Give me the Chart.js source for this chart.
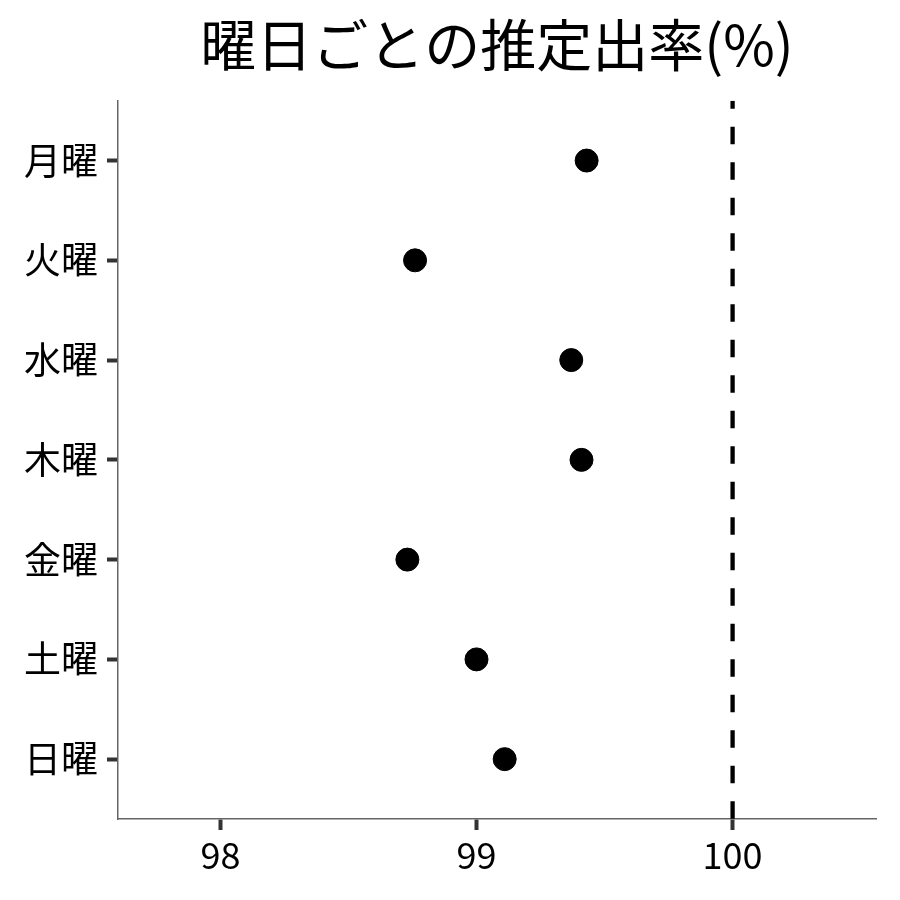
<!DOCTYPE html>
<html>
<head>
<meta charset="utf-8">
<script src="https://cdn.jsdelivr.net/npm/chart.js@4"></script>
<style>
  html, body { margin: 0; padding: 0; background: #fff; }
  #wrap { width: 900px; height: 900px; }
</style>
</head>
<body>
<div id="wrap"><canvas id="grafico"></canvas></div>
<script>
// 曜日ごとの推定出率
const dias = ["月曜", "火曜", "水曜", "木曜", "金曜", "土曜", "日曜"];
const taxas = [99.43, 98.76, 99.37, 99.41, 98.73, 99.00, 99.11];
const ticksX = [98, 99, 100];
const linhaRef = 100;
const limitesX = [97.6, 100.56];
const limitesY = [-0.6, 6.6];

const fonte = '"Noto Sans CJK JP", "Noto Sans", sans-serif';

const pontos = taxas.map((v, i) => ({ x: v, y: i }));

const ctx = document.getElementById("grafico");

new Chart(ctx, {
    type: "scatter",
    data: {
        datasets: [
            {
                label: "出率",
                data: pontos,
                backgroundColor: "#000",
                borderColor: "#000",
                pointRadius: 11.5,
                pointHoverRadius: 11.5
            },
            {
                type: "line",
                label: "100%",
                data: [{ x: linhaRef, y: limitesY[0] }, { x: linhaRef, y: limitesY[1] }],
                borderColor: "#000",
                borderWidth: 4.3,
                borderDash: [17.5, 18],
                borderDashOffset: 9.5,
                pointRadius: 0,
                fill: false
            }
        ]
    },
    options: {
        responsive: true,
        maintainAspectRatio: false,
        animation: false,
        layout: { padding: { left: 0, right: 24, top: 0, bottom: 0 } },
        plugins: {
            legend: { display: false },
            tooltip: { enabled: false },
            title: {
                display: true,
                fullSize: false,
                text: "曜日ごとの推定出率(%)",
                color: "#000",
                font: { family: fonte, size: 56, weight: "normal", lineHeight: 1.2 },
                padding: { top: 11, bottom: 22.5 }
            }
        },
        scales: {
            x: {
                type: "linear",
                min: limitesX[0],
                max: limitesX[1],
                afterBuildTicks: (s) => { s.ticks = ticksX.map(v => ({ value: v })); },
                afterFit: (s) => { s.height = 81; },
                grid: { drawOnChartArea: false, drawTicks: true, tickLength: 11, tickColor: "#333", tickWidth: 4 },
                border: { display: true, color: "#666", width: 1.5 },
                ticks: { color: "#000", padding: 4, font: { family: fonte, size: 36 } }
            },
            y: {
                type: "linear",
                reverse: true,
                min: limitesY[0],
                max: limitesY[1],
                afterBuildTicks: (s) => { s.ticks = dias.map((d, i) => ({ value: i })); },
                afterFit: (s) => { s.width = 118; },
                grid: { drawOnChartArea: false, drawTicks: true, tickLength: 11, tickColor: "#333", tickWidth: 4 },
                border: { display: true, color: "#666", width: 1.5 },
                ticks: {
                    color: "#000",
                    padding: 9,
                    font: { family: fonte, size: 37 },
                    callback: (v) => dias[v]
                }
            }
        }
    }
});
</script>
</body>
</html>
